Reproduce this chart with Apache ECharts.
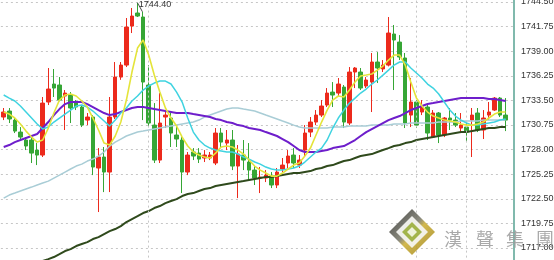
<!DOCTYPE html>
<html>
<head>
<meta charset="utf-8">
<script src="https://cdn.jsdelivr.net/npm/echarts@6/dist/echarts.min.js"></script>
<style>
html,body{margin:0;padding:0;background:#fff;overflow:hidden;width:554px;height:260px;position:relative;}
#c{position:absolute;left:0;top:-23px;width:554px;height:296px;}
</style>
</head>
<body>
<div id="c"></div>
<script>
// ---- data ----
const categories = ['01','02','03','04','05','06','07','08','09','10','11','12','13','14','15','16','17','18','19','20',
'21','22','23','24','25','26','27','28','29','30','31','32','33','34','35','36','37','38','39','40',
'41','42','43','44','45','46','47','48','49','50','51','52','53','54','55','56','57','58','59','60',
'61','62','63','64','65','66','67','68','69','70','71','72','73','74','75','76','77','78','79','80',
'81','82','83','84','85','86','87','88','89','90','91','92'];

// [open, close, low, high]
const candles = [
[1731.64,1732.20,1731.30,1732.65],[1732.31,1731.42,1730.97,1732.65],[1731.30,1730.07,1729.85,1731.64],
[1729.96,1729.40,1729.07,1730.52],[1729.07,1728.40,1727.95,1729.40],[1729.07,1727.61,1726.50,1729.40],
[1727.95,1727.39,1726.27,1728.73],[1727.39,1733.20,1727.17,1733.88],[1733.32,1734.77,1732.98,1737.12],
[1735.33,1734.88,1733.88,1737.01],[1735.22,1733.54,1733.40,1736.11],[1733.99,1734.32,1730.19,1734.66],
[1734.10,1732.65,1730.97,1734.43],[1733.20,1732.76,1732.42,1733.54],[1732.76,1730.74,1730.52,1732.98],
[1731.30,1731.64,1730.74,1732.09],[1731.64,1726.05,1725.15,1731.86],[1725.94,1727.17,1721.02,1728.17],
[1727.17,1725.49,1723.25,1728.29],[1725.49,1731.64,1723.25,1733.88],[1731.64,1736.11,1731.42,1737.79],
[1736.11,1737.45,1735.80,1737.79],[1737.45,1741.70,1737.23,1742.71],[1741.81,1742.93,1741.03,1743.83],
[1743.27,1742.93,1742.82,1744.40],[1742.82,1735.55,1731.30,1743.38],[1735.22,1730.97,1730.52,1737.45],
[1730.74,1726.83,1726.50,1733.20],[1726.83,1730.97,1726.50,1734.32],[1731.64,1731.86,1730.41,1732.42],
[1731.53,1729.85,1728.29,1732.09],[1729.63,1729.18,1728.29,1730.74],[1729.07,1725.49,1723.14,1729.40],
[1725.49,1727.39,1725.15,1727.73],[1727.73,1727.28,1726.83,1728.17],[1727.61,1726.94,1726.50,1728.17],
[1727.06,1727.39,1726.61,1727.95],[1727.06,1727.39,1726.83,1727.73],[1726.50,1729.85,1726.27,1730.41],
[1729.85,1728.84,1728.29,1730.41],[1728.73,1729.07,1727.95,1730.19],[1729.07,1726.16,1725.71,1730.19],
[1726.16,1727.50,1722.58,1728.51],[1727.39,1726.83,1725.71,1729.07],[1726.61,1725.71,1724.60,1728.73],
[1725.71,1724.82,1724.04,1726.27],[1724.82,1724.93,1723.14,1726.05],[1724.82,1725.15,1724.37,1725.71],
[1724.93,1724.04,1723.70,1725.49],[1724.04,1725.49,1723.70,1725.94],[1725.83,1726.27,1725.49,1727.06],
[1726.50,1727.28,1725.94,1727.95],[1727.39,1726.50,1725.94,1728.17],[1726.27,1726.83,1725.94,1727.39],
[1727.95,1729.85,1727.17,1730.74],[1729.96,1731.08,1729.40,1731.64],[1731.08,1731.86,1730.74,1732.42],
[1731.86,1732.87,1731.64,1733.54],[1732.98,1734.32,1732.76,1734.88],[1734.43,1734.10,1732.76,1735.55],
[1734.32,1735.33,1733.88,1736.00],[1734.99,1731.08,1730.41,1735.22],[1730.97,1736.67,1730.74,1737.23],
[1736.67,1737.12,1734.88,1737.23],[1736.67,1734.88,1734.66,1737.12],[1735.11,1735.78,1734.88,1736.11],
[1735.55,1737.79,1732.20,1738.80],[1737.79,1737.12,1735.44,1738.90],[1737.01,1737.45,1736.67,1738.01],
[1737.45,1741.03,1737.30,1742.82],[1740.92,1740.25,1734.66,1741.93],[1740.02,1738.35,1738.01,1740.80],
[1738.24,1730.97,1730.41,1738.80],[1731.86,1733.32,1730.52,1736.00],[1733.32,1730.74,1730.41,1733.54],
[1732.20,1732.76,1731.86,1733.54],[1732.76,1729.85,1729.07,1732.98],[1729.40,1732.09,1729.29,1732.42],
[1732.09,1729.63,1728.73,1732.20],[1729.63,1731.53,1729.40,1731.64],[1731.53,1731.30,1730.19,1732.65],
[1731.30,1730.74,1730.52,1732.09],[1730.41,1730.74,1729.85,1732.09],[1730.52,1729.96,1728.84,1730.97],
[1731.30,1731.86,1727.17,1732.65],[1732.09,1730.19,1729.96,1732.65],[1730.19,1731.53,1729.18,1732.42],
[1731.86,1732.20,1731.30,1733.32],[1732.42,1733.76,1732.31,1733.88],[1733.76,1731.86,1731.64,1733.88],
[1731.86,1731.30,1730.07,1733.76],'-'];

const ma5 = [1732.20,1731.97,1731.53,1730.86,1730.07,1729.40,1728.84,1729.07,1730.41,1732.09,
1733.54,1734.10,1734.21,1733.99,1733.43,1732.76,1731.53,1730.19,1728.73,1728.51,
1729.52,1731.08,1733.54,1736.67,1739.35,1740.25,1738.57,1736.33,1734.43,1732.65,
1731.53,1730.63,1729.40,1728.40,1727.73,1727.39,1727.17,1727.06,1727.61,1728.29,
1728.40,1728.29,1727.95,1727.50,1726.83,1726.16,1725.71,1725.38,1725.04,1725.04,
1725.38,1725.83,1726.27,1726.50,1727.28,1728.17,1729.63,1731.08,1732.42,1733.54,
1733.99,1733.88,1734.66,1735.55,1736.22,1736.33,1736.45,1736.89,1737.34,1738.01,
1738.57,1738.57,1737.45,1735.55,1733.76,1732.87,1732.20,1731.75,1731.53,1731.30,
1731.19,1731.08,1730.86,1730.74,1730.74,1730.86,1731.08,1731.53,1731.97,1732.20,
1732.20,null];

const ma10 = [1734.10,1733.76,1733.43,1732.87,1732.20,1731.53,1730.86,1730.30,1730.52,1731.08,
1731.53,1731.97,1732.42,1732.87,1732.98,1732.76,1732.31,1731.75,1731.19,1730.63,
1731.30,1732.09,1732.65,1733.43,1733.99,1734.66,1735.11,1735.44,1735.66,1735.66,
1735.33,1734.43,1733.32,1731.53,1729.96,1729.07,1728.51,1728.17,1727.95,1727.84,
1727.73,1727.73,1727.50,1727.17,1726.94,1726.61,1726.38,1726.05,1725.83,1725.71,
1725.71,1725.83,1725.94,1726.16,1726.61,1727.17,1727.73,1728.17,1729.07,1730.41,
1731.53,1732.42,1733.20,1733.76,1734.32,1734.77,1735.33,1735.78,1736.33,1736.89,
1737.45,1737.79,1737.79,1737.12,1736.56,1736.00,1735.33,1734.88,1734.21,1733.32,
1732.42,1731.75,1731.30,1730.97,1730.74,1730.74,1730.86,1730.97,1731.08,1731.30,
1731.42,null];

const ma20 = [1728.29,1728.51,1728.84,1729.07,1729.29,1729.52,1729.74,1730.41,1731.08,1731.86,
1732.53,1733.09,1733.32,1733.32,1733.32,1733.09,1732.76,1732.42,1732.09,1731.86,
1731.97,1732.20,1732.42,1732.65,1732.76,1732.76,1732.65,1732.53,1732.42,1732.31,
1732.20,1732.09,1732.09,1732.09,1731.97,1731.86,1731.75,1731.64,1731.42,1731.30,
1731.08,1730.97,1730.74,1730.63,1730.41,1730.30,1730.19,1729.96,1729.74,1729.52,
1729.18,1728.84,1728.40,1727.95,1727.73,1727.73,1727.73,1727.84,1727.95,1728.17,
1728.29,1728.40,1728.73,1729.07,1729.52,1729.96,1730.30,1730.63,1730.97,1731.30,
1731.53,1731.75,1732.09,1732.42,1732.65,1732.87,1733.09,1733.20,1733.32,1733.43,
1733.54,1733.65,1733.76,1733.76,1733.76,1733.76,1733.76,1733.65,1733.65,1733.54,
1733.43,null];

const ma60 = [1722.58,1722.92,1723.14,1723.37,1723.59,1723.81,1724.04,1724.26,1724.48,1724.82,
1725.15,1725.49,1725.83,1726.16,1726.38,1726.72,1726.94,1727.28,1727.73,1728.40,
1728.84,1729.18,1729.52,1729.74,1729.96,1730.07,1730.19,1730.30,1730.41,1730.52,
1730.63,1730.74,1730.86,1730.97,1731.08,1731.30,1731.64,1731.86,1732.09,1732.31,
1732.53,1732.65,1732.65,1732.53,1732.42,1732.31,1732.09,1731.86,1731.64,1731.42,
1731.19,1730.97,1730.74,1730.52,1730.41,1730.41,1730.41,1730.41,1730.41,1730.52,
1730.52,1730.52,1730.63,1730.63,1730.63,1730.63,1730.74,1730.74,1730.74,1730.74,
1730.86,1730.86,1730.86,1730.97,1730.97,1730.97,1730.97,1730.97,1731.08,1731.08,
1731.08,1731.08,1731.19,1731.19,1731.19,1731.19,1731.30,1731.30,1731.30,1731.30,
1731.30,null];

const ma120 = [1713.75,1713.97,1714.31,1714.53,1714.76,1714.98,1715.32,1715.54,1715.76,1715.99,
1716.32,1716.66,1716.88,1717.22,1717.44,1717.66,1718.00,1718.22,1718.56,1718.89,
1719.12,1719.45,1719.90,1720.24,1720.57,1720.91,1721.13,1721.47,1721.69,1722.02,
1722.25,1722.47,1722.81,1723.03,1723.14,1723.37,1723.59,1723.70,1723.93,1724.04,
1724.15,1724.26,1724.37,1724.48,1724.60,1724.71,1724.82,1724.93,1724.93,1725.04,
1725.15,1725.27,1725.38,1725.38,1725.49,1725.60,1725.83,1725.94,1726.16,1726.27,
1726.50,1726.72,1726.83,1727.06,1727.28,1727.39,1727.50,1727.73,1727.95,1728.17,
1728.40,1728.51,1728.73,1728.84,1729.07,1729.18,1729.29,1729.40,1729.52,1729.63,
1729.74,1729.85,1729.96,1729.96,1730.07,1730.19,1730.30,1730.41,1730.41,1730.52,
1730.52,null];

const sessionBreaks = [26, 74, 83];
const watermarkChars = ['漢','聲','集','團'];

// ---- chart ----
const OFF = 23; // the chart canvas starts 23px above the page
const chart = echarts.init(document.getElementById('c'), null, {renderer:'canvas'});

function maLine(name, data, color, width, z){
  return {name, type:'line', data, symbol:'none', smooth:false, z,
    lineStyle:{color, width}, itemStyle:{color}, silent:true, clip:true};
}
function P(pts){ return pts.map(p => [p[0], p[1] + OFF]); }

const wmX = [453, 485, 515, 545];
const graphics = [
  {type:'polygon', z:100, shape:{points:P([[412,209],[435,232],[412,255],[389,232]])},
   style:{fill:new echarts.graphic.LinearGradient(0,0,1,1,[{offset:0,color:'#2e2e2e'},{offset:0.45,color:'#7d7d70'},{offset:0.55,color:'#cdb03a'},{offset:1,color:'#9c8420'}]), opacity:0.9}},
  {type:'polygon', z:101, shape:{points:P([[412,216],[428,232],[412,248],[396,232]])},
   style:{fill:'#f4f4f0', opacity:0.95}},
  {type:'polygon', z:102, shape:{points:P([[412,222],[422,232],[412,242],[402,232]])},
   style:{fill:'#9db043', opacity:0.95}},
  {type:'polygon', z:103, shape:{points:P([[412,227],[417,232],[412,237],[407,232]])},
   style:{fill:'#eef2dc'}}
];
watermarkChars.forEach((ch, k) => {
  graphics.push({type:'text', z:104, left:wmX[k]-9, top:230 + OFF,
    style:{text:ch, fill:'#9a9a9a', font:'18px "Noto Sans CJK TC"', opacity:0.85}});
});

const option = {
  animation:false,
  backgroundColor:'#ffffff',
  grid:{left:0.9, right:40, top:0.4, bottom:0.4, containLabel:false, outerBoundsMode:'none'},
  xAxis:{type:'category', data:categories, boundaryGap:true,
    axisLine:{show:false}, axisTick:{show:false}, axisLabel:{show:false}, splitLine:{show:false}},
  yAxis:{type:'value', position:'right', min:1714.25, max:1747.25, interval:2.75,
    axisLine:{show:true, lineStyle:{color:'#80b9ad', width:2}},
    axisTick:{show:false},
    axisLabel:{margin:7, color:'#333', fontSize:9, fontFamily:'Liberation Sans', formatter:v=>v.toFixed(2)},
    splitLine:{show:true, lineStyle:{color:'#c6c6c6', type:[2,3], width:1}}},
  series:[
    {name:'K', type:'candlestick', data:candles, barWidth:4, z:2,
     itemStyle:{color:'#ec2a1c', color0:'#36a635', borderColor:'#ec2a1c', borderColor0:'#36a635', borderWidth:1},
     markLine:{symbol:['none','none'], silent:true, label:{show:false}, animation:false,
       lineStyle:{color:'#c6c6c6', type:[2,3], width:1},
       data: sessionBreaks.map(i => ({xAxis:i}))},
     markPoint:{silent:true, animation:false,
       symbol:'path://M0,0L5,9', symbolSize:[5,9], symbolOffset:[2.5,4.5],
       itemStyle:{color:'none', borderColor:'#444', borderWidth:1},
       label:{show:true, position:[3,0], align:'left', verticalAlign:'top', color:'#333', fontSize:9,
         fontFamily:'Liberation Sans', formatter:p=>Number(p.value).toFixed(2)},
       data:[{type:'max', valueDim:'highest'}]}
    },
    maLine('MA120', ma120, '#2f4a1c', 2, 3),
    maLine('MA60', ma60, '#a9cdd6', 1.5, 4),
    maLine('MA20', ma20, '#6e1ecb', 2, 5),
    maLine('MA10', ma10, '#3fd3e0', 1.5, 6),
    maLine('MA5', ma5, '#e4e43a', 1.6, 7)
  ],
  graphic: graphics
};
chart.setOption(option);
</script>
</body>
</html>
